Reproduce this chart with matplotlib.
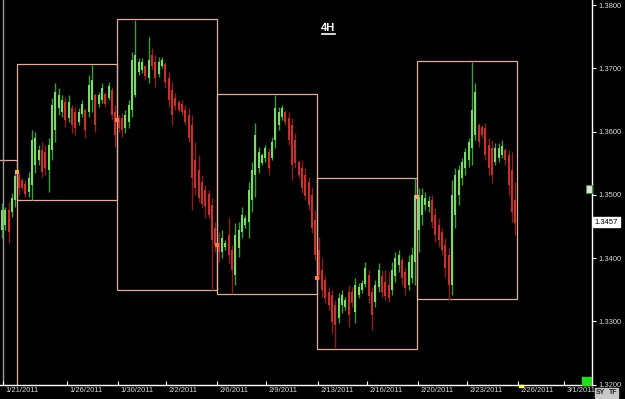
import numpy as np
import matplotlib
matplotlib.use("Agg")
import matplotlib.pyplot as plt
from matplotlib.patches import Rectangle

# EUR/USD 4H bars, 1/21/2011 - 2/25/2011
opens = [1.3445, 1.3452, 1.3476, 1.3473, 1.3492, 1.3531, 1.3524, 1.3517, 1.3505, 1.3516,
         1.3547, 1.3555, 1.3571, 1.3568, 1.3539, 1.3571, 1.3602, 1.3637, 1.3631, 1.3647,
         1.3621, 1.3637, 1.3631, 1.3615, 1.3628, 1.3634, 1.3631, 1.3650, 1.3658, 1.3644,
         1.3650, 1.3659, 1.3653, 1.3666, 1.3631, 1.3618, 1.3621, 1.3606, 1.3615, 1.3634,
         1.3658, 1.3694, 1.3697, 1.3704, 1.3685, 1.3721, 1.3710, 1.3691, 1.3704, 1.3707,
         1.3685, 1.3666, 1.3653, 1.3647, 1.3644, 1.3634, 1.3626, 1.3610, 1.3555, 1.3539,
         1.3520, 1.3508, 1.3501, 1.3484, 1.3448, 1.3424, 1.3410, 1.3418, 1.3437, 1.3413,
         1.3373, 1.3416, 1.3441, 1.3452, 1.3457, 1.3492, 1.3531, 1.3542, 1.3550, 1.3558,
         1.3568, 1.3558, 1.3587, 1.3610, 1.3623, 1.3631, 1.3621, 1.3610, 1.3587, 1.3552,
         1.3542, 1.3531, 1.3520, 1.3500, 1.3460, 1.3413, 1.3381, 1.3365, 1.3346, 1.3342,
         1.3326, 1.3306, 1.3326, 1.3323, 1.3346, 1.3346, 1.3315, 1.3342, 1.3350, 1.3359,
         1.3373, 1.3346, 1.3331, 1.3354, 1.3372, 1.3362, 1.3358, 1.3350, 1.3372, 1.3389,
         1.3397, 1.3378, 1.3358, 1.3369, 1.3394, 1.3445, 1.3468, 1.3484, 1.3481, 1.3492,
         1.3468, 1.3452, 1.3441, 1.3421, 1.3405, 1.3358, 1.3468, 1.3500, 1.3527, 1.3542,
         1.3555, 1.3574, 1.3595, 1.3610, 1.3607, 1.3606, 1.3579, 1.3574, 1.3552, 1.3558,
         1.3563, 1.3571, 1.3563, 1.3539, 1.3492]
highs = [1.3487, 1.3481, 1.3489, 1.3503, 1.3536, 1.3536, 1.3527, 1.3524, 1.3536, 1.3602,
         1.3599, 1.3579, 1.3584, 1.3579, 1.3590, 1.3653, 1.3677, 1.3669, 1.3658, 1.3655,
         1.3658, 1.3642, 1.3639, 1.3637, 1.3650, 1.3637, 1.3689, 1.3705, 1.3661, 1.3663,
         1.3677, 1.3663, 1.3678, 1.3670, 1.3642, 1.3626, 1.3629, 1.3634, 1.3650, 1.3726,
         1.3776, 1.3716, 1.3716, 1.3705, 1.3749, 1.3732, 1.3721, 1.3718, 1.3718, 1.3710,
         1.3694, 1.3678, 1.3661, 1.3650, 1.3650, 1.3642, 1.3637, 1.3626, 1.3584, 1.3563,
         1.3531, 1.3516, 1.3508, 1.3495, 1.3457, 1.3441, 1.3445, 1.3429, 1.3463, 1.3421,
         1.3456, 1.3457, 1.3481, 1.3468, 1.3520, 1.3552, 1.3614, 1.3576, 1.3566, 1.3579,
         1.3574, 1.3591, 1.3658, 1.3639, 1.3642, 1.3634, 1.3631, 1.3621, 1.3598, 1.3555,
         1.3555, 1.3542, 1.3528, 1.3512, 1.3476, 1.3433, 1.3400, 1.3373, 1.3354, 1.3350,
         1.3334, 1.3345, 1.3350, 1.3339, 1.3358, 1.3354, 1.3369, 1.3361, 1.3365, 1.3394,
         1.3381, 1.3354, 1.3365, 1.3392, 1.3381, 1.3381, 1.3378, 1.3394, 1.3410, 1.3413,
         1.3402, 1.3386, 1.3405, 1.3418, 1.3527, 1.3511, 1.3511, 1.3505, 1.3498, 1.3500,
         1.3479, 1.3463, 1.3448, 1.3432, 1.3416, 1.3524, 1.3542, 1.3547, 1.3558, 1.3574,
         1.3590, 1.3710, 1.3677, 1.3614, 1.3610, 1.3614, 1.3590, 1.3587, 1.3582, 1.3582,
         1.3587, 1.3574, 1.3571, 1.3568, 1.3520]
lows = [1.3432, 1.3445, 1.3424, 1.3465, 1.3481, 1.3500, 1.3508, 1.3497, 1.3497, 1.3492,
        1.3535, 1.3547, 1.3528, 1.3531, 1.3505, 1.3555, 1.3584, 1.3626, 1.3623, 1.3607,
        1.3615, 1.3598, 1.3595, 1.3610, 1.3623, 1.3590, 1.3623, 1.3631, 1.3599, 1.3639,
        1.3645, 1.3639, 1.3650, 1.3618, 1.3576, 1.3599, 1.3591, 1.3598, 1.3606, 1.3623,
        1.3655, 1.3689, 1.3693, 1.3682, 1.3677, 1.3697, 1.3670, 1.3686, 1.3700, 1.3669,
        1.3639, 1.3610, 1.3634, 1.3631, 1.3626, 1.3610, 1.3584, 1.3476, 1.3500, 1.3489,
        1.3479, 1.3463, 1.3463, 1.3350, 1.3410, 1.3394, 1.3400, 1.3413, 1.3392, 1.3345,
        1.3358, 1.3402, 1.3432, 1.3448, 1.3432, 1.3473, 1.3497, 1.3535, 1.3547, 1.3552,
        1.3531, 1.3555, 1.3574, 1.3602, 1.3618, 1.3610, 1.3579, 1.3524, 1.3542, 1.3527,
        1.3503, 1.3492, 1.3476, 1.3440, 1.3397, 1.3365, 1.3339, 1.3329, 1.3318, 1.3282,
        1.3258, 1.3298, 1.3313, 1.3318, 1.3291, 1.3323, 1.3298, 1.3337, 1.3345, 1.3354,
        1.3329, 1.3287, 1.3323, 1.3346, 1.3339, 1.3334, 1.3331, 1.3342, 1.3362, 1.3378,
        1.3358, 1.3342, 1.3350, 1.3361, 1.3358, 1.3410, 1.3452, 1.3476, 1.3473, 1.3448,
        1.3426, 1.3418, 1.3405, 1.3370, 1.3334, 1.3342, 1.3448, 1.3484, 1.3516, 1.3531,
        1.3544, 1.3547, 1.3587, 1.3576, 1.3590, 1.3555, 1.3531, 1.3519, 1.3547, 1.3552,
        1.3558, 1.3547, 1.3500, 1.3457, 1.3437]
closes = [1.3476, 1.3476, 1.3441, 1.3495, 1.3530, 1.3511, 1.3511, 1.3501, 1.3527, 1.3587,
          1.3590, 1.3571, 1.3536, 1.3542, 1.3579, 1.3642, 1.3663, 1.3658, 1.3650, 1.3618,
          1.3647, 1.3610, 1.3606, 1.3631, 1.3644, 1.3602, 1.3674, 1.3682, 1.3610, 1.3658,
          1.3669, 1.3644, 1.3672, 1.3626, 1.3595, 1.3606, 1.3602, 1.3626, 1.3642, 1.3713,
          1.3721, 1.3710, 1.3710, 1.3688, 1.3713, 1.3704, 1.3685, 1.3710, 1.3713, 1.3678,
          1.3650, 1.3626, 1.3640, 1.3634, 1.3631, 1.3615, 1.3590, 1.3527, 1.3511, 1.3495,
          1.3486, 1.3482, 1.3468, 1.3429, 1.3421, 1.3410, 1.3432, 1.3424, 1.3405, 1.3381,
          1.3437, 1.3445, 1.3468, 1.3463, 1.3508, 1.3539, 1.3595, 1.3568, 1.3563, 1.3574,
          1.3542, 1.3584, 1.3637, 1.3631, 1.3637, 1.3615, 1.3587, 1.3547, 1.3550, 1.3531,
          1.3511, 1.3498, 1.3484, 1.3448, 1.3405, 1.3373, 1.3350, 1.3337, 1.3326, 1.3299,
          1.3294, 1.3337, 1.3342, 1.3334, 1.3310, 1.3329, 1.3358, 1.3354, 1.3361, 1.3384,
          1.3340, 1.3310, 1.3358, 1.3381, 1.3346, 1.3340, 1.3337, 1.3381, 1.3400, 1.3405,
          1.3369, 1.3353, 1.3394, 1.3405, 1.3500, 1.3497, 1.3500, 1.3495, 1.3490, 1.3457,
          1.3437, 1.3429, 1.3413, 1.3384, 1.3358, 1.3500, 1.3531, 1.3539, 1.3552, 1.3568,
          1.3584, 1.3634, 1.3663, 1.3584, 1.3595, 1.3563, 1.3542, 1.3531, 1.3574, 1.3574,
          1.3577, 1.3555, 1.3516, 1.3473, 1.3456]

# weekly high/low boxes and weekly opens
week_high = [1.3555, 1.3707, 1.3778, 1.3659, 1.3527, 1.3712]
week_low = [1.3150, 1.3492, 1.3350, 1.3343, 1.3257, 1.3336]
week_open = [1.3536, 1.3618, 1.3421, 1.3369, 1.3497]
last_price = 1.3457

date_labels = ["1/21/2011", "1/26/2011", "1/30/2011", "2/2/2011", "2/6/2011", "2/9/2011",
               "2/13/2011", "2/16/2011", "2/20/2011", "2/23/2011", "2/26/2011", "3/1/2011"]
date_pos = [0.3, 19.5, 34.8, 49.2, 64.5, 79.2, 94.8, 109.5, 124.8, 139.5, 154.8, 168.6]
price_ticks = [1.32, 1.33, 1.34, 1.35, 1.36, 1.37, 1.38]

FONT = "Liberation Sans"
TXT = "#d8d8d8"
BOX = "#dcae9e"

o, h, l, c = (np.array(a) for a in (opens, highs, lows, closes))
x = np.arange(len(c))
up = c >= o

fig = plt.figure(figsize=(6.25, 3.99), dpi=100, facecolor="black")
ax = fig.add_axes([0, 14 / 399, 592 / 625, 385 / 399], facecolor="black")

# weekly boxes
for k, (wh, wl) in enumerate(zip(week_high, week_low)):
    x0 = 4.5 + 30 * (k - 1)
    ax.add_patch(Rectangle((x0, wl), 30, wh - wl, fill=False, edgecolor=BOX, lw=0.9, zorder=1))

ax.axvline(0.3, color="#9a9a9a", lw=1.0, zorder=1)

# candles
ax.vlines(x[up], l[up], h[up], color="#3a9e38", lw=1.0, zorder=2)
ax.bar(x[up], np.maximum(c[up] - o[up], 0.00008), bottom=o[up], width=0.65,
       color="#78dc62", lw=0, zorder=3)
ax.vlines(x[~up], l[~up], h[~up], color="#8e1e1c", lw=1.0, zorder=2)
ax.bar(x[~up], np.minimum(c[~up] - o[~up], -0.00008), bottom=o[~up], width=0.65,
       color="#c8302a", lw=0, zorder=3)

wx = [4.5 + 30 * k for k in range(len(week_open))]
ax.scatter(wx, week_open, marker="s", s=7, color=["#f0b050", "#ff7a40", "#ff7a40", "#ff7a40", "#f0b070"],
           lw=0, zorder=4)

ax.set_xlim(-0.6, 177.0)
ax.set_ylim(1.31996, 1.38079)

for s in ("top", "left"):
    ax.spines[s].set_visible(False)
for s in ("right", "bottom"):
    ax.spines[s].set_color("white")
    ax.spines[s].set_linewidth(1.0)

ax.yaxis.tick_right()
ax.set_yticks(price_ticks)
ax.set_yticklabels([f"{p:.4f}" for p in price_ticks])
ax.tick_params(axis="y", colors="white", labelcolor=TXT, length=3, width=0.8, pad=2,
               labelsize=5.5, labelfontfamily=FONT)
ax.set_xticks(date_pos)
ax.tick_params(axis="x", direction="in", colors="white", length=3, width=0.8, labelbottom=False)
for p, lab in zip(date_pos, date_labels):
    ax.text(p + 0.7, -0.005, lab, transform=ax.get_xaxis_transform(), ha="left", va="top",
            color=TXT, fontsize=5.5, family=FONT, clip_on=False)

# title
ax.text(0.554, 0.927, "4H", transform=ax.transAxes, ha="center", va="center", color="white",
        fontsize=8, fontweight="bold", family=FONT)
ax.plot([322 / 592, 335 / 592], [1 - 34 / 385] * 2, transform=ax.transAxes, color="white", lw=1.2)

# last price tag
ax.text(1.005, last_price, f"{last_price:.4f}", transform=ax.get_yaxis_transform(), ha="left",
        va="center", color="black", fontsize=5.5, family=FONT, clip_on=False,
        bbox=dict(boxstyle="square,pad=0.25", fc="white", ec="white"))

# small widgets
ax.add_patch(Rectangle((582 / 592, 0.0), 9 / 592, 8 / 385, transform=ax.transAxes,
                       color="#22dd22", zorder=5, clip_on=False))
ax.add_patch(Rectangle((155.0, 1.3196), 1.2, 0.0004, color="#ffff70", zorder=5, clip_on=False))
ax.add_patch(Rectangle((586 / 592, 1 - 193 / 385), 6 / 592, 8 / 385, transform=ax.transAxes,
                       fc="#dfe8d8", ec="#4a8a4a", lw=0.8, zorder=5, clip_on=False))
fig.text(601 / 625, 1 - 393 / 399, "SY", ha="center", va="center", fontsize=5, fontweight="bold",
         family=FONT, color="#202020", bbox=dict(boxstyle="square,pad=0.15", fc="#c8c8c8", ec="#c8c8c8"))
fig.text(613 / 625, 1 - 393 / 399, "TF", ha="center", va="center", fontsize=5, fontweight="bold",
         family=FONT, color="#202020", bbox=dict(boxstyle="square,pad=0.15", fc="#c8c8c8", ec="#c8c8c8"))

fig.savefig("out.png", dpi=100, facecolor="black")
